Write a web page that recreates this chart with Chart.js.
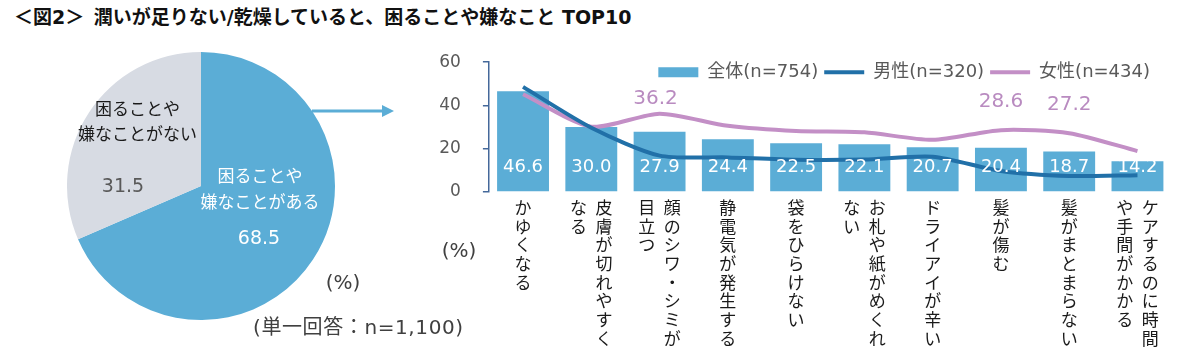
<!DOCTYPE html>
<html><head><meta charset="utf-8">
<script src="https://cdn.jsdelivr.net/npm/chart.js@4.4.1/dist/chart.umd.min.js"></script>
<style>
html,body{margin:0;padding:0;background:#fff;}
body{width:1200px;height:356px;position:relative;overflow:hidden;font-family:"DejaVu Sans","Noto Sans CJK JP",sans-serif;}
.abs{position:absolute;white-space:nowrap;}
#title{left:14px;top:7px;font-size:19px;line-height:21px;font-weight:bold;color:#111;}
#pieWrap{left:67px;top:52px;width:268px;height:268px;}
#barWrap{left:420px;top:30px;width:780px;height:326px;}
.note{color:#404040;}
</style></head>
<body>
<div id="title" class="abs">＜図2＞&ensp;潤いが足りない/乾燥していると、困ることや嫌なこと TOP10</div>
<div id="pieWrap" class="abs"><canvas id="pie"></canvas></div>
<svg class="abs" style="left:300px;top:99px" width="100" height="24"><line x1="12" y1="12" x2="84" y2="12" stroke="#5BADD6" stroke-width="3"/><polygon points="82,6 94,12 82,18" fill="#5BADD6"/></svg>
<div id="barWrap" class="abs"><canvas id="bar"></canvas></div>
<div class="abs note" style="left:343px;top:282px;font-size:20px;transform:translate(-50%,-50%)">(%)</div>
<div class="abs note" style="left:253px;top:325px;font-size:20px;letter-spacing:0.6px;transform:translateY(-50%)">(単一回答：n=1,100)</div>
<div class="abs note" style="left:459px;top:250px;font-size:20px;transform:translate(-50%,-50%)">(%)</div>
<script>
// ---- data ----
const pieCategories = [['困ることや', '嫌なことがある'], ['困ることや', '嫌なことがない']];
const pieValues = [68.5, 31.5];

// each category: vertical columns, right-to-left
const categories = [
  ['かゆくなる'],
  ['皮膚が切れやすく', 'なる'],
  ['顔のシワ・シミが', '目立つ'],
  ['静電気が発生する'],
  ['袋をひらけない'],
  ['お札や紙がめくれ', 'ない'],
  ['ドライアイが辛い'],
  ['髪が傷む'],
  ['髪がまとまらない'],
  ['ケアするのに時間', 'や手間がかかる']
];
const seriesNames = ['全体(n=754)', '男性(n=320)', '女性(n=434)'];
const totalValues = [46.6, 30.0, 27.9, 24.4, 22.5, 22.1, 20.7, 20.4, 18.7, 14.2];
const maleValues = [48.6, 29.7, 16.8, 16.0, 14.9, 15.0, 16.3, 9.7, 7.4, 7.8];
const femaleValues = [45.2, 30.2, 36.2, 30.6, 28.2, 27.6, 24.1, 28.6, 27.2, 18.9];
const femaleLabelled = [2, 7, 8];
const yTicks = [0, 20, 40, 60];

// ---- styles ----
const FONT = '"DejaVu Sans", "Noto Sans CJK JP", sans-serif';
const JFONT = '"Noto Sans CJK JP", sans-serif';
const BLUE = '#5BADD6', GRAY = '#D7DBE3', MALE = '#2170A8', FEMALE = '#C38FC6';

function toVerticalLines(cols) {
  const chars = cols.slice().reverse().map(c => Array.from(c));
  const n = Math.max(...chars.map(c => c.length));
  const lines = [];
  for (let r = 0; r < n; r++) lines.push(chars.map(c => c[r] || '\u3000').join('\u2002'));
  return lines;
}

// ---- pie ----
const pieLabelPlugin = {
  id: 'pieLabels',
  afterDatasetsDraw(chart, args, opts) {
    const ctx = chart.ctx;
    chart.getDatasetMeta(0).data.forEach((arc, i) => {
      const p = arc.tooltipPosition();
      const st = opts.styles[i];
      ctx.save();
      ctx.textAlign = 'center'; ctx.textBaseline = 'middle';
      ctx.font = '17px ' + JFONT;
      ctx.fillStyle = st.textColor;
      pieCategories[i].forEach((line, k) => ctx.fillText(line, p.x + st.dx, p.y + st.dy + k * st.lh));
      ctx.font = '19px ' + FONT;
      ctx.fillStyle = st.valueColor;
      ctx.fillText(pieValues[i].toFixed(1), p.x + st.vdx, p.y + st.vdy);
      ctx.restore();
    });
  }
};
new Chart(document.getElementById('pie'), {
  type: 'pie',
  data: { labels: pieCategories.map(c => c.join('')), datasets: [{ data: pieValues, backgroundColor: [BLUE, GRAY], borderWidth: 0 }] },
  options: {
    responsive: true, maintainAspectRatio: false, animation: false,
    layout: { padding: 0 },
    plugins: {
      legend: { display: false }, tooltip: { enabled: false },
      pieLabels: { styles: [
        { dx: 3, dy: -47.5, lh: 26.7, textColor: '#ffffff', vdx: 2, vdy: 16, valueColor: '#ffffff' },
        { dx: -7.5, dy: -41, lh: 25, textColor: '#1a1a1a', vdx: -22, vdy: 38, valueColor: '#595959' }
      ] }
    }
  },
  plugins: [pieLabelPlugin]
});

// ---- bar + lines ----
const valueLabelPlugin = {
  id: 'valueLabels',
  afterDatasetsDraw(chart, args, opts) {
    const ctx = chart.ctx;
    ctx.save();
    ctx.textAlign = 'center'; ctx.textBaseline = 'middle';
    ctx.font = '18px ' + FONT;
    ctx.fillStyle = '#ffffff';
    chart.getDatasetMeta(0).data.forEach((bar, i) => ctx.fillText(totalValues[i].toFixed(1), bar.x, bar.base - opts.barOffset));
    ctx.font = '20px ' + FONT;
    ctx.fillStyle = opts.femaleColor;
    const pts = chart.getDatasetMeta(2).data;
    femaleLabelled.forEach((idx, k) => ctx.fillText(femaleValues[idx].toFixed(1), pts[idx].x + opts.femaleDx[k], pts[idx].y + opts.femaleDy[k]));
    ctx.restore();
  }
};
const legendPlace = {
  id: 'legendPlace',
  beforeLayout(chart, args, opts) {
    const lg = chart.legend;
    if (lg && !lg._patchedFit) {
      const fit = lg.fit;
      lg.fit = function () { fit.call(this); this.height = opts.reserve; };
      lg._patchedFit = true;
    }
  },
  afterLayout(chart, args, opts) {
    const lg = chart.legend;
    lg.top = chart.chartArea.top + opts.dy;
    lg.bottom = lg.top + 40;
    lg.right = opts.right;
  }
};

new Chart(document.getElementById('bar'), {
  type: 'bar',
  data: {
    labels: categories.map(toVerticalLines),
    datasets: [
      { type: 'bar', label: seriesNames[0], data: totalValues, backgroundColor: BLUE, borderWidth: 0, barPercentage: 0.76, categoryPercentage: 1.0, order: 3 },
      { type: 'line', label: seriesNames[1], data: maleValues, borderColor: MALE, backgroundColor: MALE, borderWidth: 4, pointRadius: 0, tension: 0.25, order: 1 },
      { type: 'line', label: seriesNames[2], data: femaleValues, borderColor: FEMALE, backgroundColor: FEMALE, borderWidth: 4, pointRadius: 0, tension: 0.25, order: 2 }
    ]
  },
  options: {
    responsive: true, maintainAspectRatio: false, animation: false,
    layout: { padding: { top: 2, right: 28.4, bottom: 0, left: 0 } },
    scales: {
      x: {
        grid: { display: false, drawTicks: false }, border: { display: false },
        ticks: { font: { family: JFONT, size: 17, lineHeight: 1.1 }, color: '#1a1a1a', padding: 6, maxRotation: 0, minRotation: 0, autoSkip: false },
        afterFit(s) { s.height = 164; }
      },
      y: {
        min: yTicks[0], max: yTicks[yTicks.length - 1],
        ticks: { stepSize: 20, font: { family: FONT, size: 17 }, color: '#595959', padding: 22 },
        grid: { drawOnChartArea: false, drawTicks: true, tickLength: 6, color: '#44689A', lineWidth: 1.5 },
        border: { display: true, color: '#44689A', width: 1.5 },
        afterFit(s) { s.width = 68.9; }
      }
    },
    plugins: {
      tooltip: { enabled: false },
      legend: {
        position: 'top', align: 'end',
        labels: {
          usePointStyle: true, pointStyleWidth: 40, boxHeight: 10, padding: 6,
          font: { family: FONT, size: 18 }, color: '#595959',
          sort: (a, b) => a.datasetIndex - b.datasetIndex,
          generateLabels(chart) {
            const items = Chart.defaults.plugins.legend.labels.generateLabels(chart);
            items.forEach(it => {
              const ds = chart.data.datasets[it.datasetIndex];
              if (it.datasetIndex === 0) { it.pointStyle = 'rect'; it.lineWidth = 0; it.fillStyle = ds.backgroundColor; }
              else { it.pointStyle = 'line'; it.lineWidth = 4; it.strokeStyle = ds.borderColor; }
            });
            return items;
          }
        }
      },
      legendPlace: { reserve: 9.8, dy: -5, right: 736 },
      valueLabels: { barOffset: 24, femaleColor: '#B98BC0', femaleDx: [-4, 0, 0], femaleDy: [-15, -28, -28] }
    }
  },
  plugins: [legendPlace, valueLabelPlugin]
});
</script>
</body></html>
